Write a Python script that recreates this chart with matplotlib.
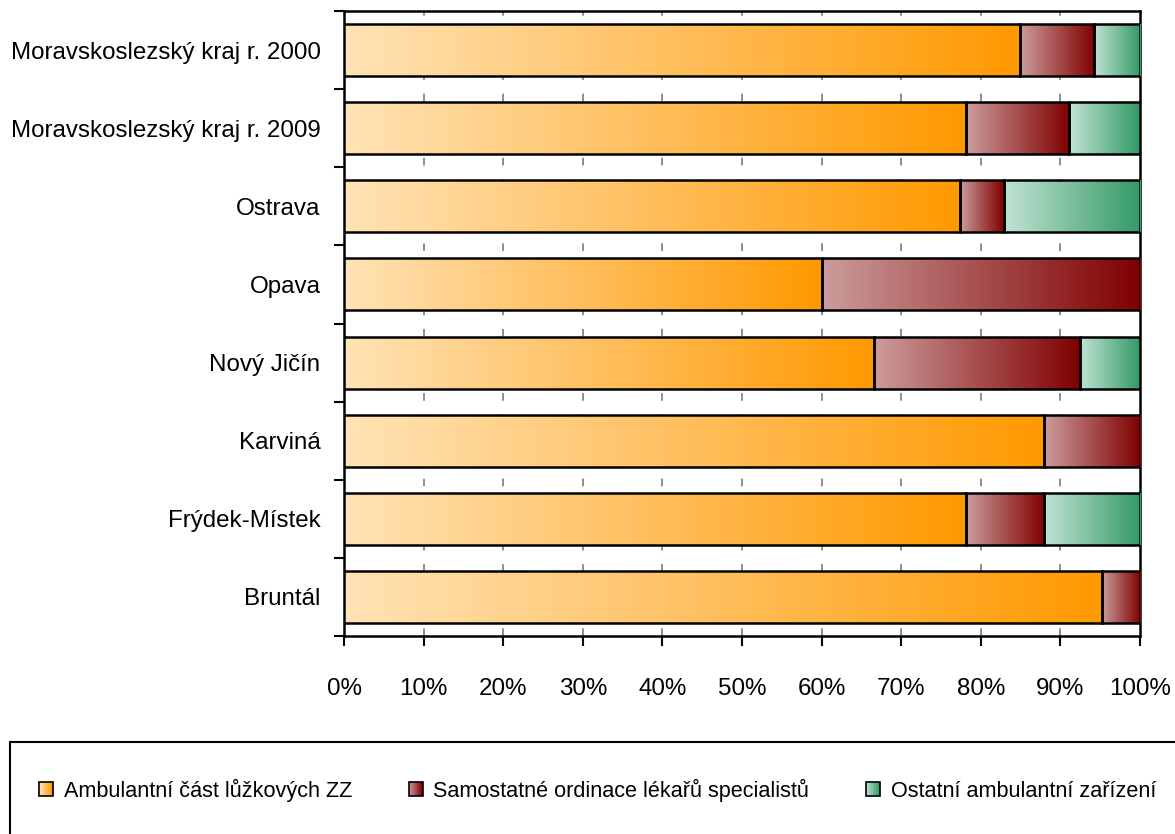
import numpy as np
import matplotlib
matplotlib.use("Agg")
import matplotlib.pyplot as plt
from matplotlib.colors import LinearSegmentedColormap, to_rgb
from matplotlib.patches import Rectangle
from matplotlib.legend_handler import HandlerBase

plt.rcParams['font.family'] = ['Liberation Sans Narrow', 'Liberation Sans', 'DejaVu Sans']

categories = ["Moravskoslezský kraj r. 2000", "Moravskoslezský kraj r. 2009", "Ostrava",
              "Opava", "Nový Jičín", "Karviná", "Frýdek-Místek", "Bruntál"]
ambulantni = [84.9, 78.1, 77.4, 60.0, 66.6, 87.9, 78.1, 95.2]
samostatne = [9.3, 13.0, 5.5, 40.0, 25.9, 12.1, 9.8, 4.8]
ostatni = [5.8, 8.9, 17.1, 0.0, 7.5, 0.0, 12.1, 0.0]
series_names = ["Ambulantní část lůžkových ZZ", "Samostatné ordinace lékařů specialistů",
                "Ostatní ambulantní zařízení"]
grad_colors = [("#FFE3B6", "#FF9900"), ("#CC9C9C", "#800000"), ("#C2E3D4", "#339966")]
xticks = np.arange(0, 101, 10)
xticklabels = [f"{v}%" for v in xticks]

W, H = 1175, 834
fig = plt.figure(figsize=(W / 100, H / 100), dpi=100)
ax = fig.add_axes([344 / W, 1 - 636 / H, (1140 - 344) / W, (636 - 11) / H])

FS = 17.4
LFS = 15.6
bar_h = 0.667
ypos = np.arange(len(categories))
grad = np.linspace(0, 1, 256).reshape(1, -1)

lefts = np.zeros(len(categories))
for vals, (c0, c1) in zip([ambulantni, samostatne, ostatni], grad_colors):
    cmap = LinearSegmentedColormap.from_list("g", [c0, c1])
    bars = ax.barh(ypos, vals, left=lefts, height=bar_h, facecolor='none',
                   edgecolor='black', linewidth=1.8, zorder=4)
    for b, v, l, y in zip(bars, vals, lefts, ypos):
        if v <= 0:
            b.set_visible(False)
            continue
        im = ax.imshow(grad, cmap=cmap, aspect='auto', interpolation='bilinear',
                       extent=[l, l + v, y + bar_h / 2, y - bar_h / 2], zorder=3)
        im.set_clip_path(b)
    lefts = lefts + np.array(vals)

ax.set_xlim(0, 100)
ax.set_ylim(len(categories) - 0.5, -0.5)

# grid
for xv in xticks[1:-1]:
    ax.axvline(xv, color='#707070', linewidth=1.1, linestyle=(0, (5, 9)), zorder=1)

ax.set_xticks(xticks)
ax.set_xticklabels(xticklabels, fontsize=FS)
ax.set_yticks(ypos)
ax.set_yticklabels(categories, fontsize=FS)
ax.set_yticks(np.arange(-0.5, len(categories), 1), minor=True)
ax.tick_params(axis='y', which='major', length=0, pad=17)
ax.tick_params(axis='y', which='minor', length=7.5, width=1.5, direction='out')
ax.tick_params(axis='x', which='major', length=7.5, width=1.5, direction='out', pad=23)
for s in ax.spines.values():
    s.set_linewidth(1.8)
    s.set_color('black')


class GradHandler(HandlerBase):
    def __init__(self, c0, c1, n=24):
        super().__init__()
        self.c0 = np.array(to_rgb(c0))
        self.c1 = np.array(to_rgb(c1))
        self.n = n

    def create_artists(self, legend, orig_handle, xdescent, ydescent, width, height, fontsize, trans):
        arts = []
        x0, y0 = -xdescent, -ydescent
        sw = width / self.n
        for i in range(self.n):
            t = i / (self.n - 1)
            c = self.c0 * (1 - t) + self.c1 * t
            arts.append(Rectangle((x0 + i * sw, y0), sw * 1.05, height, facecolor=c,
                                  edgecolor='none', transform=trans))
        arts.append(Rectangle((x0, y0), width, height, facecolor='none',
                              edgecolor='black', linewidth=1.2, transform=trans))
        return arts


handles = [Rectangle((0, 0), 1, 1) for _ in series_names]
hmap = {h: GradHandler(c0, c1) for h, (c0, c1) in zip(handles, grad_colors)}
fig.legend(handles, series_names, handler_map=hmap, ncol=3, frameon=False,
           loc='center left', bbox_to_anchor=(39 / W, 1 - 790 / H),
           fontsize=LFS, handlelength=0.65, handleheight=0.65, handletextpad=0.5,
           columnspacing=2.6, borderpad=0, borderaxespad=0)

fig.patches.append(Rectangle((10 / W, -0.05), 1.0, (834 - 742) / H + 0.05,
                             transform=fig.transFigure, fill=False,
                             edgecolor='black', linewidth=1.5, clip_on=False))

fig.savefig("out.png", dpi=100)
